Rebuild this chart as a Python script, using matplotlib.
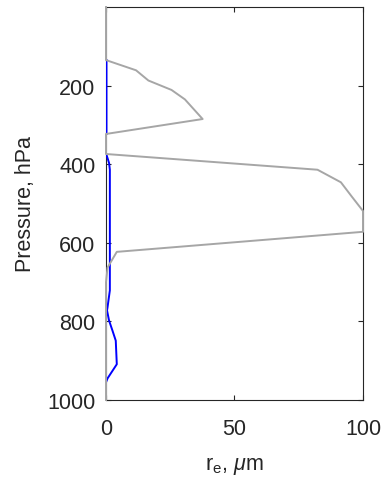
import numpy as np
import matplotlib
matplotlib.use("Agg")
import matplotlib.pyplot as plt

plt.rcParams['font.family'] = ['Liberation Sans', 'DejaVu Sans']
plt.rcParams['mathtext.fontset'] = 'custom'
plt.rcParams['mathtext.rm'] = 'Liberation Sans'
plt.rcParams['mathtext.it'] = 'Liberation Sans:italic'

# gray profile (r_e, pressure)
gray_re = [0, 0, 11.7, 16.5, 25.5, 30.7, 37.6, 0, 0, 82.3, 91.4, 95.6, 100, 100, 4.2, 0.6, 0, 0]
gray_p = [0, 135, 161, 187, 211, 235, 285, 323, 374, 414, 446, 482, 519, 572, 623, 663, 700, 1000]

# blue profile
blue_re = [0.2, 0.2, np.nan, 0.2, 1.2, 1.5, 1.5, 1.5, 0.6, 0.4, 1.2, 2.5, 3.8, 4.2, 2.9, 0.6, 0.0]
blue_p = [135, 323, 350, 376, 397, 414, 600, 721, 764, 772, 798, 823, 849, 909, 922, 945, 955]

dark = (0.15, 0.15, 0.15)

fig = plt.figure(figsize=(3.86, 4.81), dpi=100)
ax = fig.add_axes([0.2746, 0.1663, 0.6658, 0.817])
ax.plot(blue_re, blue_p, color='blue', lw=1.4, zorder=3)
ax.plot(gray_re, gray_p, color=(0.65, 0.65, 0.65), lw=1.4, zorder=4, clip_on=False)

ax.set_xlim(0, 100)
ax.set_ylim(1000, 0)
ax.set_xticks([0, 50, 100])
ax.set_yticks([200, 400, 600, 800, 1000])
ax.tick_params(direction='in', length=3.5, width=0.8, top=True, right=True,
               labelsize=15.5, colors=dark)
ax.tick_params(axis='x', pad=13)
ax.tick_params(axis='y', pad=7.5)
for s in ax.spines.values():
    s.set_color(dark)
    s.set_linewidth(0.8)
ax.set_xlabel(r'r$_\mathrm{e}$, $\mu$m', fontsize=15.5, color=dark, labelpad=10.5)
ax.set_ylabel('Pressure, hPa', fontsize=15.5, color=dark, labelpad=8)

fig.savefig('out.png', dpi=100)
